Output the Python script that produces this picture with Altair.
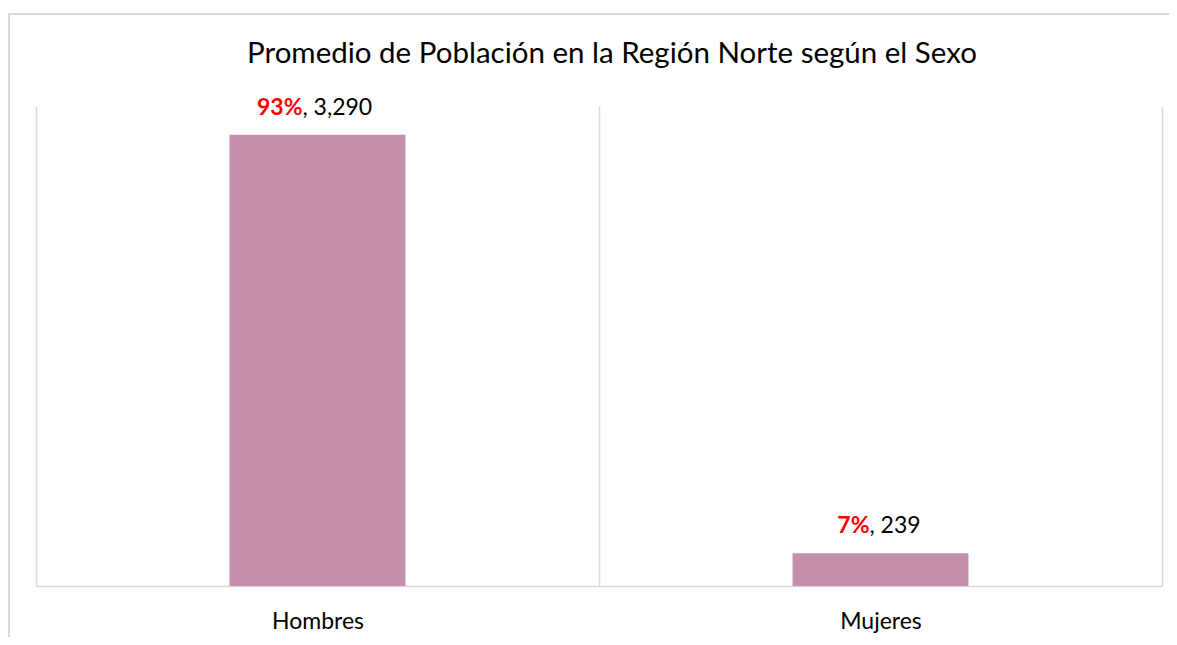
import altair as alt
import pandas as pd

categories = ["Hombres", "Mujeres"]
values = [3290, 239]
percents = ["93%", "7%"]
value_labels = [", 3,290", ", 239"]
title_text = "Promedio de Población en la Región Norte según el Sexo"

df = pd.DataFrame({
    "sexo": categories,
    "valor": values,
    "pct": percents,
    "lbl": value_labels,
})

FONT = "Lato"
GRID = "#d9d9d9"

base = alt.Chart(df)

x_enc = alt.X(
    "sexo:N",
    sort=categories,
    scale=alt.Scale(paddingInner=0, paddingOuter=0),
    axis=alt.Axis(
        title=None, labelAngle=0, ticks=False, grid=True, tickBand="extent",
        gridColor=GRID, gridWidth=1.5, domainColor=GRID, domainWidth=1.5,
        labelFont=FONT, labelFontSize=23, labelColor="#000000",
        labelBaseline="alphabetic", labelPadding=42,
    ),
)
y_enc = alt.Y("valor:Q", scale=alt.Scale(domain=[0, 3500]), axis=None)

bars = base.mark_bar(color="#C490AB", width=alt.RelativeBandSize(0.3125)).encode(x=x_enc, y=y_enc)

layers = [bars]
offsets = {"Hombres": -15, "Mujeres": -11}
for cat in categories:
    sub = base.transform_filter(alt.datum.sexo == cat)
    pct = sub.mark_text(
        font=FONT, fontSize=23, fontWeight="bold", color="#FF0000",
        align="right", baseline="alphabetic", dx=offsets[cat], dy=-20,
    ).encode(x=alt.X("sexo:N", sort=categories), y="valor:Q", text="pct:N")
    lbl = sub.mark_text(
        font=FONT, fontSize=23, color="#000000",
        align="left", baseline="alphabetic", dx=offsets[cat], dy=-20,
    ).encode(x=alt.X("sexo:N", sort=categories), y="valor:Q", text="lbl:N")
    layers += [pct, lbl]

frame_data = alt.Data(values=[{"t": title_text}])
top_border = alt.Chart(frame_data).mark_rule(color=GRID, strokeWidth=2).encode(
    x=alt.value(-28), x2=alt.value(1160), y=alt.value(-92)
)
left_border = alt.Chart(frame_data).mark_rule(color=GRID, strokeWidth=2).encode(
    x=alt.value(-27), y=alt.value(-93), y2=alt.value(560)
)
title = alt.Chart(frame_data).mark_text(
    font=FONT, fontSize=29.5, color="#000000", align="center", baseline="alphabetic",
).encode(x=alt.value(576), y=alt.value(-43), text="t:N")

chart = alt.layer(top_border, left_border, title, *layers).properties(
    width=1126,
    height=480,
    autosize=alt.AutoSizeParams(type="none"),
    padding={"left": 28, "top": 98, "right": 7, "bottom": 51},
).configure_view(stroke=None)

chart.save("out.html", embed_options={"renderer": "svg", "actions": False})
